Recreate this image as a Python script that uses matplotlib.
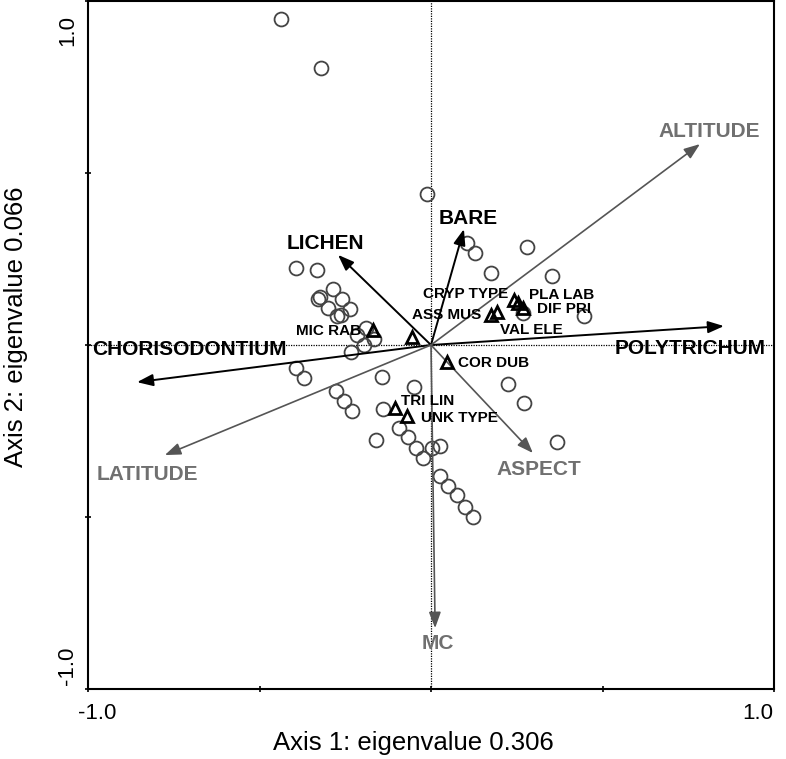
import numpy as np
import matplotlib
matplotlib.use('Agg')
import matplotlib.pyplot as plt

plt.rcParams['font.family'] = ['Liberation Sans', 'DejaVu Sans']

# site scores (open circles)
site_x = [-0.437, -0.321, -0.012, 0.105, 0.128, 0.280, 0.175, 0.353, 0.446, 0.268,
          -0.394, -0.332, -0.286, -0.329, -0.324, -0.259, -0.300, -0.236, -0.274, -0.262,
          -0.216, -0.166, -0.195, -0.233, -0.190, -0.394, -0.370, -0.277, -0.254, -0.230,
          -0.143, -0.050, -0.140, -0.160, -0.093, -0.067, -0.044, -0.023, 0.003, 0.026,
          0.026, 0.050, 0.076, 0.099, 0.122, 0.224, 0.271, 0.367]
site_y = [0.948, 0.805, 0.439, 0.297, 0.267, 0.285, 0.209, 0.201, 0.084, 0.093,
          0.224, 0.218, 0.163, 0.134, 0.140, 0.134, 0.108, 0.105, 0.084, 0.087,
          0.029, 0.017, 0.000, -0.020, 0.049, -0.067, -0.096, -0.134, -0.163, -0.192,
          -0.093, -0.122, -0.186, -0.276, -0.241, -0.267, -0.299, -0.328, -0.299, -0.294,
          -0.381, -0.410, -0.436, -0.471, -0.500, -0.113, -0.169, -0.282]

# species scores (triangles)
sp_names = ['MIC RAB', '', 'CRYP TYPE', 'PLA LAB', 'DIF PRI', 'ASS MUS', 'VAL ELE',
            'COR DUB', 'TRI LIN', 'UNK TYPE']
sp_x = [-0.169, -0.055, 0.242, 0.254, 0.268, 0.175, 0.192, 0.047, -0.105, -0.070]
sp_y = [0.044, 0.023, 0.131, 0.122, 0.108, 0.087, 0.096, -0.049, -0.183, -0.206]

# cover variables (black arrows)
cov_names = ['POLYTRICHUM', 'CHORISODONTIUM', 'LICHEN', 'BARE']
cov_x = [0.854, -0.857, -0.271, 0.096]
cov_y = [0.055, -0.108, 0.262, 0.337]

# environmental variables (grey arrows)
env_names = ['ALTITUDE', 'LATITUDE', 'ASPECT', 'MC']
env_x = [0.784, -0.776, 0.297, 0.012]
env_y = [0.584, -0.320, -0.314, -0.823]

# label anchor points (left / baseline)
sp_lab_pos = [(-0.394, 0.028), None, (-0.023, 0.138), (0.286, 0.135), (0.309, 0.094),
              (-0.055, 0.077), (0.201, 0.033), (0.079, -0.063), (-0.087, -0.173),
              (-0.029, -0.225)]
cov_lab_pos = [(0.536, -0.026), (-0.988, -0.029), (-0.420, 0.279), (0.023, 0.352)]
env_lab_pos = [(0.662, 0.605), (-0.974, -0.392), (0.190, -0.378), (-0.026, -0.884)]

fig = plt.figure(figsize=(7.86, 7.59), dpi=100)
ax = fig.add_axes([88/786, 70/759, 686/786, 688/759])
ax.set_xlim(-1, 1)
ax.set_ylim(-1, 1)

ax.axhline(0, color='black', lw=0.9, ls=(0, (1, 1)), zorder=1)
ax.axvline(0, color='black', lw=0.9, ls=(0, (1, 1)), zorder=1)

ax.plot(site_x, site_y, 'o', ms=10, mfc='none', mec='#444444', mew=1.3, zorder=2)
ax.plot(sp_x, sp_y, '^', ms=8, mfc='none', mec='black', mew=2, zorder=4)

for i in range(len(sp_names)):
    if sp_lab_pos[i] is None:
        continue
    ax.text(sp_lab_pos[i][0], sp_lab_pos[i][1], sp_names[i], fontsize=11,
            fontweight='bold', ha='left', va='baseline', zorder=5)

for i in range(len(cov_names)):
    ax.annotate('', xy=(cov_x[i], cov_y[i]), xytext=(0, 0),
                arrowprops=dict(arrowstyle='-|>,head_length=0.8,head_width=0.3',
                                mutation_scale=12, lw=1.4, color='black',
                                shrinkA=0, shrinkB=0), zorder=3)
    ax.text(cov_lab_pos[i][0], cov_lab_pos[i][1], cov_names[i], fontsize=15,
            fontweight='bold', ha='left', va='baseline', zorder=5)

for i in range(len(env_names)):
    ax.annotate('', xy=(env_x[i], env_y[i]), xytext=(0, 0),
                arrowprops=dict(arrowstyle='-|>,head_length=0.8,head_width=0.3',
                                mutation_scale=12, lw=1.2, color='#555555',
                                shrinkA=0, shrinkB=0), zorder=3)
    ax.text(env_lab_pos[i][0], env_lab_pos[i][1], env_names[i], fontsize=15,
            fontweight='bold', color='#707070', ha='left', va='baseline', zorder=5)

ax.set_xticks([-1, -0.5, 0, 0.5, 1])
ax.set_yticks([-1, -0.5, 0, 0.5, 1])
ax.set_xticklabels([])
ax.set_yticklabels([])
ax.tick_params(direction='inout', length=5, width=1.2)
for s in ax.spines.values():
    s.set_linewidth(1.5)

ax.text(-1.029, -1.07, '-1.0', fontsize=16, ha='left', va='center', clip_on=False)
ax.text(0.997, -1.07, '1.0', fontsize=16, ha='right', va='center', clip_on=False)
ax.text(-1.06, 0.959, '1.0', fontsize=16, rotation=90, ha='center', va='top', clip_on=False)
ax.text(-1.06, -0.988, '-1.0', fontsize=16, rotation=90, ha='center', va='bottom', clip_on=False)

fig.text(413/786, 1 - 743/759, 'Axis 1: eigenvalue 0.306', fontsize=18.5, ha='center', va='center')
fig.text(16/786, 1 - 327/759, 'Axis 2: eigenvalue 0.066', fontsize=18.5, rotation=90,
         ha='center', va='center')

fig.savefig('out.png', dpi=100)
